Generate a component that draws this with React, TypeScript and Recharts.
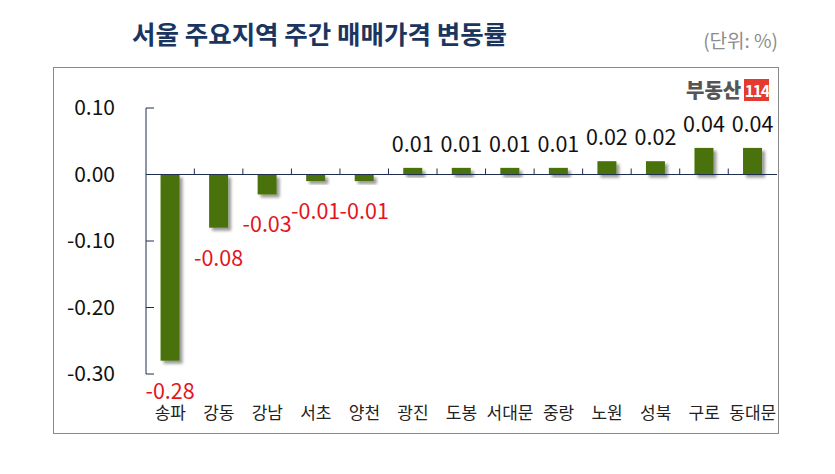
import React from "react";
import {
  Bar,
  BarChart,
  LabelList,
  ReferenceLine,
  XAxis,
  YAxis,
} from "recharts";

const categories = [
  "송파",
  "강동",
  "강남",
  "서초",
  "양천",
  "광진",
  "도봉",
  "서대문",
  "중랑",
  "노원",
  "성북",
  "구로",
  "동대문",
];
const changes = [
  -0.28, -0.08, -0.03, -0.01, -0.01, 0.01, 0.01, 0.01, 0.01, 0.02, 0.02, 0.04,
  0.04,
];
const yTicks = [0.1, 0, -0.1, -0.2, -0.3];

const data = categories.map((name, i) => ({ name, change: changes[i] }));

const W = 835;
const H = 474;
const FONT = "'Noto Sans CJK KR', 'Noto Sans', sans-serif";
const NAVY = "#1f2d50";
const GREEN = "#4a720c";

const margin = { top: 108, right: 58, left: 86, bottom: 70 };
const Y_AXIS_W = 60;
const band = (W - margin.left - margin.right - Y_AXIS_W) / categories.length;

const BarShape = (props: any) => {
  const { x, y, width, height, index } = props;
  const top = Math.min(y, y + height);
  const h = Math.abs(height);
  const zeroY = changes[index] >= 0 ? top + h : top;
  const cx = x + width / 2;
  const tickX = cx - band / 2;
  return (
    <g>
      {index === 0 && (
        <defs>
          <filter id="barShadow" x="-50%" y="-50%" width="200%" height="200%">
            <feGaussianBlur in="SourceAlpha" stdDeviation="1.5" />
            <feOffset dx="3" dy="3" result="off" />
            <feComponentTransfer>
              <feFuncA type="linear" slope="0.4" />
            </feComponentTransfer>
            <feMerge>
              <feMergeNode />
              <feMergeNode in="SourceGraphic" />
            </feMerge>
          </filter>
        </defs>
      )}
      <rect
        x={x}
        y={top}
        width={width}
        height={h}
        fill={GREEN}
        filter="url(#barShadow)"
      />
      {index > 0 && (
        <line
          x1={tickX}
          x2={tickX}
          y1={zeroY}
          y2={zeroY - 6}
          stroke={NAVY}
          strokeWidth={1}
        />
      )}
    </g>
  );
};

const ValueLabel = (props: any) => {
  const { x, y, width, height, value } = props;
  const top = Math.min(y, y + height);
  const bottom = Math.max(y, y + height);
  const neg = value < 0;
  return (
    <text
      x={x + width / 2}
      y={neg ? bottom + 28.5 : top - 25.5}
      textAnchor="middle"
      dominantBaseline="central"
      fill={neg ? "#e3141d" : "#111"}
      fontSize={21.5}
      fontFamily={FONT}
    >
      {value.toFixed(2)}
    </text>
  );
};

const CategoryTick = (props: any) => {
  const { x, y, payload } = props;
  return (
    <text
      x={x}
      y={y + 37}
      textAnchor="middle"
      dominantBaseline="central"
      fill="#222"
      fontSize={17}
      fontFamily={FONT}
    >
      {payload.value}
    </text>
  );
};

const App = () => {
  return (
    <div
      style={{
        position: "absolute",
        left: 0,
        top: 0,
        width: W,
        height: H,
        background: "#fff",
        fontFamily: FONT,
      }}
    >
      <div
        style={{
          position: "absolute",
          left: 53,
          top: 67,
          width: 726,
          height: 367,
          border: "1px solid #8a8a8a",
          boxSizing: "border-box",
        }}
      />
      <div
        style={{
          position: "absolute",
          left: 132,
          top: 20,
          fontSize: 25.5,
          lineHeight: "25px",
          fontWeight: 700,
          color: "#1a365f",
          whiteSpace: "nowrap",
        }}
      >
        서울 주요지역 주간 매매가격 변동률
      </div>
      <div
        style={{
          position: "absolute",
          right: 57,
          top: 30,
          fontSize: 19,
          lineHeight: "19px",
          color: "#8c8c8c",
          whiteSpace: "nowrap",
        }}
      >
        (단위: %)
      </div>
      <div
        style={{
          position: "absolute",
          left: 686,
          top: 79,
          height: 22,
          display: "flex",
          alignItems: "center",
        }}
      >
        <span
          style={{
            fontSize: 20,
            fontWeight: 900,
            color: "#555",
            letterSpacing: 0,
            lineHeight: "22px",
          }}
        >
          부동산
        </span>
        <span
          style={{
            marginLeft: 3,
            width: 25,
            height: 22,
            background: "#e53a2e",
            color: "#fff",
            fontSize: 16,
            fontWeight: 700,
            lineHeight: "22px",
            textAlign: "center",
            letterSpacing: -1.5,
          }}
        >
          114
        </span>
      </div>
      <div style={{ position: "absolute", left: 0, top: 0 }}>
        <BarChart
          width={W}
          height={H}
          data={data}
          margin={margin}
          barCategoryGap="30%"
        >
          <XAxis
            dataKey="name"
            height={30}
            axisLine={false}
            tickLine={false}
            tickSize={0}
            tickMargin={0}
            interval={0}
            tick={<CategoryTick />}
          />
          <YAxis
            width={Y_AXIS_W}
            domain={[-0.3, 0.1]}
            ticks={yTicks}
            tickFormatter={(v: number) => v.toFixed(2)}
            stroke={NAVY}
            axisLine={{ stroke: NAVY }}
            tickLine={{ stroke: NAVY }}
            tickSize={-8}
            tickMargin={39}
            tick={{ fill: "#111", fontSize: 21, fontFamily: FONT }}
          />
          <ReferenceLine y={0} stroke={NAVY} strokeWidth={1} />
          <Bar
            dataKey="change"
            fill={GREEN}
            shape={<BarShape />}
            isAnimationActive={false}
          >
            <LabelList dataKey="change" content={<ValueLabel />} />
          </Bar>
        </BarChart>
      </div>
    </div>
  );
};

export default App;
